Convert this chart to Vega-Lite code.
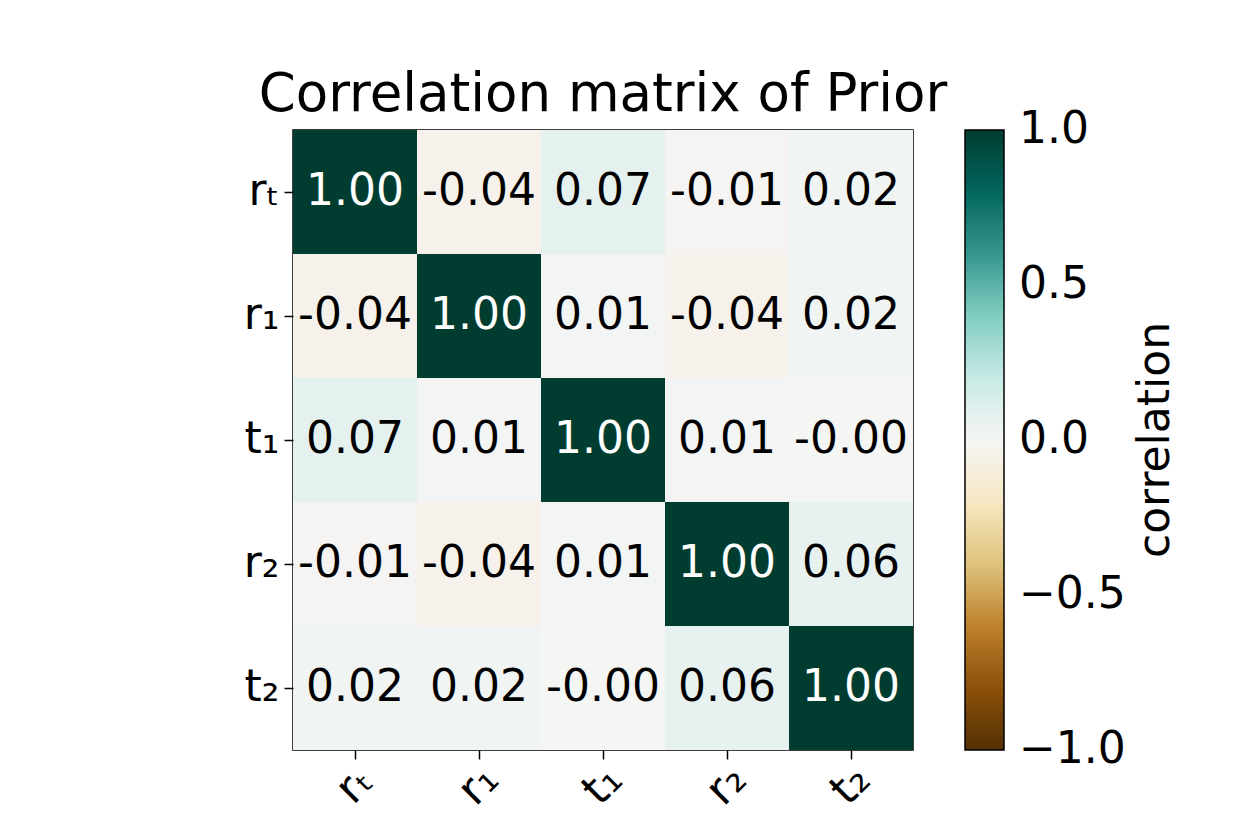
{
  "$schema": "https://vega.github.io/schema/vega-lite/v6.json",
  "background": "white",
  "padding": {"left": 243, "top": 69, "right": 10, "bottom": 10},
  "width": 620,
  "height": 620,
  "title": {"text": "Correlation matrix of Prior", "font": "DejaVu Sans", "fontSize": 53, "fontWeight": "normal", "color": "black", "offset": 8, "anchor": "middle"},
  "data": {"values": [
    {"row": "rₜ", "col": "rₜ", "v": 1.0, "label": "1.00"},
    {"row": "rₜ", "col": "r₁", "v": -0.04, "label": "-0.04"},
    {"row": "rₜ", "col": "t₁", "v": 0.07, "label": "0.07"},
    {"row": "rₜ", "col": "r₂", "v": -0.01, "label": "-0.01"},
    {"row": "rₜ", "col": "t₂", "v": 0.02, "label": "0.02"},
    {"row": "r₁", "col": "rₜ", "v": -0.04, "label": "-0.04"},
    {"row": "r₁", "col": "r₁", "v": 1.0, "label": "1.00"},
    {"row": "r₁", "col": "t₁", "v": 0.01, "label": "0.01"},
    {"row": "r₁", "col": "r₂", "v": -0.04, "label": "-0.04"},
    {"row": "r₁", "col": "t₂", "v": 0.02, "label": "0.02"},
    {"row": "t₁", "col": "rₜ", "v": 0.07, "label": "0.07"},
    {"row": "t₁", "col": "r₁", "v": 0.01, "label": "0.01"},
    {"row": "t₁", "col": "t₁", "v": 1.0, "label": "1.00"},
    {"row": "t₁", "col": "r₂", "v": 0.01, "label": "0.01"},
    {"row": "t₁", "col": "t₂", "v": -0.003, "label": "-0.00"},
    {"row": "r₂", "col": "rₜ", "v": -0.01, "label": "-0.01"},
    {"row": "r₂", "col": "r₁", "v": -0.04, "label": "-0.04"},
    {"row": "r₂", "col": "t₁", "v": 0.01, "label": "0.01"},
    {"row": "r₂", "col": "r₂", "v": 1.0, "label": "1.00"},
    {"row": "r₂", "col": "t₂", "v": 0.06, "label": "0.06"},
    {"row": "t₂", "col": "rₜ", "v": 0.02, "label": "0.02"},
    {"row": "t₂", "col": "r₁", "v": 0.02, "label": "0.02"},
    {"row": "t₂", "col": "t₁", "v": -0.003, "label": "-0.00"},
    {"row": "t₂", "col": "r₂", "v": 0.06, "label": "0.06"},
    {"row": "t₂", "col": "t₂", "v": 1.0, "label": "1.00"}
  ]},
  "encoding": {
    "x": {"field": "col", "type": "nominal", "sort": ["rₜ", "r₁", "t₁", "r₂", "t₂"], "scale": {"paddingInner": 0, "paddingOuter": 0},
      "axis": {"title": null, "domain": false, "labelAngle": -45, "labelAlign": "center", "labelBaseline": "middle", "labelPadding": 26, "tickSize": 9, "tickColor": "black", "tickWidth": 1.5, "labelFont": "DejaVu Sans", "labelFontSize": 44, "labelColor": "black"}},
    "y": {"field": "row", "type": "nominal", "sort": ["rₜ", "r₁", "t₁", "r₂", "t₂"], "scale": {"paddingInner": 0, "paddingOuter": 0},
      "axis": {"title": null, "domain": false, "labelAngle": 0, "labelPadding": 5, "tickSize": 9, "tickColor": "black", "tickWidth": 1.5, "labelFont": "DejaVu Sans", "labelFontSize": 44, "labelColor": "black"}}
  },
  "layer": [
    {"mark": {"type": "rect"},
     "encoding": {"color": {"field": "v", "type": "quantitative",
       "scale": {"type": "linear", "domain": [-1, -0.8, -0.6, -0.4, -0.2, 0, 0.2, 0.4, 0.6, 0.8, 1], "range": ["#543005", "#8c510a", "#bf812d", "#dfc27d", "#f6e8c3", "#f5f5f5", "#c7eae5", "#80cdc1", "#35978f", "#01665e", "#003c30"]},
       "legend": {"title": "correlation", "orient": "right", "offset": 52, "direction": "vertical", "gradientLength": 620, "gradientThickness": 39, "gradientStrokeColor": "black", "gradientStrokeWidth": 1.5, "values": [-1, -0.5, 0, 0.5, 1], "labelExpr": "replace(format(datum.value, '.1f'), '-', '−')", "labelFont": "DejaVu Sans", "labelFontSize": 44, "labelColor": "black", "labelBaseline": "middle", "labelOffset": 15, "titleOrient": "right", "titleAnchor": "middle", "titleFont": "DejaVu Sans", "titleFontSize": 44, "titleFontWeight": "normal", "titleColor": "black", "titlePadding": 52, "titleLimit": 1000,
         "encode": {"labels": {"update": {"baseline": {"value": "middle"}}}, "title": {"update": {"angle": {"value": -90}}}}}}}},
    {"mark": {"type": "text", "font": "DejaVu Sans", "fontSize": 44, "baseline": "middle", "align": "center"},
     "encoding": {"text": {"field": "label"}, "color": {"condition": {"test": "datum.v > 0.5", "value": "white"}, "value": "black"}}}
  ],
  "config": {"view": {"stroke": "black", "strokeWidth": 1.5}}
}
